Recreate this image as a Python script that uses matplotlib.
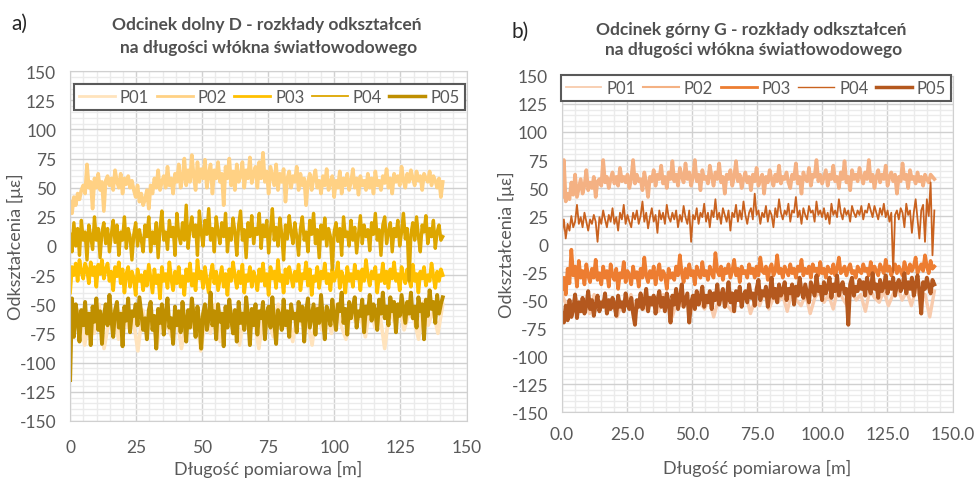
import numpy as np
import matplotlib.pyplot as plt
from matplotlib.ticker import MultipleLocator, FormatStrFormatter

plt.rcParams['font.family'] = ['Lato', 'DejaVu Sans']
plt.rcParams['axes.unicode_minus'] = False

# ---- panel a) odcinek dolny D ----
a_p01 = [-45, -70, -55, -85, -60, -75, -50, -88, -65, -58, -80, -55, -70, -62, -90, -55, -72, -60, -85, -52,
         -68, -78, -58, -88, -65, -70, -55, -90, -62, -75, -50, -82, -60, -68, -55, -85, -58, -72, -62, -88,
         -55, -65, -78, -50, -70, -60, -82, -55, -68, -62, -85, -52, -72, -58, -75, -50, -68, -80, -55, -65,
         -60, -78, -52, -70, -58, -88, -55, -65, -50, -72, -58, -62, -80, -48, -68, -55, -75, -50]
a_p02 = [38, 28, 42, 35, 45, 40, 48, 52, 45, 70, 50, 55, 32, 58, 50, 62, 48, 55, 30, 56,
         60, 52, 58, 48, 65, 55, 50, 62, 45, 58, 53, 60, 50, 56, 48, 42, 52, 38, 45, 35,
         40, 48, 32, 52, 45, 58, 50, 65, 48, 55, 60, 50, 68, 52, 58, 45, 62, 55, 70, 50,
         58, 75, 52, 65, 55, 78, 60, 48, 72, 55, 66, 58, 74, 50, 62, 70, 45, 65, 58, 72,
         55, 62, 35, 68, 58, 75, 52, 64, 48, 70, 55, 60, 72, 50, 65, 58, 76, 54, 62, 68,
         50, 72, 58, 80, 55, 64, 45, 68, 60, 52, 70, 48, 62, 55, 66, 38, 58, 64, 50, 60,
         55, 68, 48, 62, 52, 58, 35, 55, 62, 48, 58, 65, 50, 56, 45, 60, 52, 66, 48, 55,
         60, 42, 56, 50, 64, 45, 58, 52, 62, 48, 55, 66, 50, 58, 44, 60, 52, 56, 48, 62,
         50, 58, 45, 64, 52, 56, 48, 60, 54, 66, 50, 58, 45, 62, 55, 60, 52, 68, 56, 50,
         62, 55, 65, 58, 52, 64, 56, 60, 48, 62, 58, 55, 64, 52, 60, 56, 50, 58, 42, 55]
a_p03 = [-40, -18, -25, -15, -30, -12, -22, -28, -15, -20, -32, -14, -25, -18, -35, -16, -24, -12, -28, -20,
         -15, -30, -22, -38, -18, -26, -14, -32, -20, -40, -24, -18, -35, -22, -28, -42, -20, -30, -25, -38,
         -22, -34, -16, -28, -40, -20, -32, -25, -45, -18, -30, -24, -36, -14, -28, -38, -22, -32, -18, -35,
         -26, -42, -20, -30, -15, -34, -24, -38, -12, -28, -22, -36, -18, -30, -40, -25, -16, -32, -22, -38,
         -28, -18, -35, -24, -42, -20, -30, -14, -26, -36, -22, -32, -16, -40, -25, -30, -18, -35, -22, -28,
         -38, -20, -30, -15, -34, -24, -42, -18, -28, -22, -36, -12, -30, -25, -40, -20, -32, -18, -26, -35,
         -22, -30, -16, -38, -24, -28, -14, -34, -20, -42, -26, -30, -18, -36, -22, -28, -15, -32, -24, -38,
         -20, -30, -25, -14, -36, -22, -28, -40, -18, -30, -24, -35, -16, -28, -22, -38, -20, -30, -12, -26,
         -34, -22, -28, -18, -40, -25, -30, -15, -32, -22, -36, -20, -28, -14, -30, -24, -38, -18, -26, -32,
         -20, -28, -35, -16, -30, -24, -40, -22, -28, -18, -34, -25, -30, -15, -26, -36, -22, -30, -20, -25]
a_p04 = [10, -5, 20, 0, 15, -8, 22, 5, 12, -12, 18, 8, -3, 25, 5, 15, -10, 12, 20, 2,
         15, -5, 10, 22, 3, 18, -8, 12, 5, 25, -2, 15, 8, -12, 10, 20, 0, 14, 5, -5,
         18, 8, 25, -5, 12, 2, 20, -10, 15, 30, 5, 12, -3, 22, 8, 16, -8, 28, 10, 2,
         20, 5, 35, -2, 15, 25, 8, 18, -8, 30, 12, 0, 22, 10, 32, 5, 15, -5, 25, 12,
         2, 20, 8, 28, -5, 15, 5, 24, 12, -8, 18, 30, 5, 14, -10, 20, 8, 26, 2, 15,
         10, 28, -2, 18, 8, 22, -6, 14, 32, 5, 16, 0, 24, 10, -12, 18, 6, 26, 12, 2,
         20, 8, -8, 15, 25, 5, 12, -5, 22, 10, 28, 2, 14, -10, 18, 6, 24, 0, 15, 8,
         -20, 12, 20, 4, 15, -8, 25, 8, 12, 0, 22, 5, 16, -6, 10, 26, 2, 18, 8, 14,
         -4, 20, 10, 28, 5, 14, -8, 18, 25, 2, 12, 20, -5, 15, 8, 22, 0, 12, 28, 6,
         15, -30, 10, 20, 5, 25, 8, -5, 18, 12, 26, 2, 15, 8, 22, -2, 12, 18, 5, 8]
a_p05 = [-115, -45, -78, -50, -62, -82, -55, -68, -48, -75, -58, -85, -52, -65, -45, -72, -56, -84, -60, -50,
         -68, -42, -62, -78, -55, -48, -70, -58, -86, -52, -64, -45, -74, -56, -60, -50, -68, -44, -58, -72,
         -62, -80, -55, -48, -72, -60, -88, -54, -66, -50, -76, -58, -45, -70, -62, -84, -52, -68, -56, -74,
         -48, -64, -82, -55, -70, -45, -60, -78, -52, -66, -88, -58, -50, -72, -62, -40, -68, -56, -80, -50,
         -65, -58, -86, -52, -70, -46, -62, -75, -55, -82, -48, -66, -58, -72, -44, -60, -85, -54, -68, -50,
         -76, -56, -62, -48, -80, -58, -52, -70, -44, -65, -84, -55, -60, -72, -46, -68, -56, -78, -50, -62,
         -58, -74, -48, -64, -52, -82, -56, -45, -70, -60, -50, -76, -54, -66, -42, -62, -80, -52, -58, -68,
         -46, -60, -72, -50, -56, -40, -66, -54, -76, -48, -62, -52, -44, -70, -56, -60, -46, -74, -52, -58,
         -42, -64, -50, -56, -72, -46, -58, -40, -62, -52, -68, -44, -56, -48, -74, -50, -60, -42, -54, -66,
         -48, -58, -40, -62, -52, -70, -44, -56, -50, -80, -46, -60, -38, -54, -48, -66, -42, -58, -50, -44]

# ---- panel b) odcinek gorny G ----
b_p01 = [-45, -55, -65, -48, -58, -52, -62, -45, -55, -50, -60, -48, -65, -52, -55, -45, -62, -50, -58, -48,
         -55, -60, -45, -52, -65, -50, -55, -48, -62, -45, -52, -58, -48, -65, -50, -45, -55, -60, -48, -52,
         -45, -62, -50, -55, -42, -58, -48, -52, -45, -60, -42, -50, -55, -45, -62, -48, -42, -52, -45, -58,
         -40, -48, -55, -42, -50, -45, -60, -40, -48, -52, -42, -55, -45, -38, -50, -42, -55, -40, -48, -45, -65, -42]
b_p02 = [42, 75, 38, 45, 40, 55, 44, 62, 42, 50, 58, 45, 52, 66, 48, 55, 50, 60, 42, 56,
         58, 52, 75, 55, 60, 50, 58, 64, 54, 60, 52, 68, 56, 60, 55, 62, 50, 58, 75, 54,
         62, 56, 58, 48, 64, 55, 42, 60, 56, 66, 52, 62, 58, 70, 54, 60, 50, 64, 58, 74,
         56, 62, 52, 68, 60, 55, 72, 58, 64, 52, 60, 75, 56, 62, 48, 66, 58, 60, 54, 70,
         60, 52, 64, 58, 72, 55, 60, 45, 62, 58, 66, 52, 60, 74, 56, 62, 50, 58, 64, 55,
         60, 48, 62, 56, 68, 52, 58, 62, 45, 60, 55, 66, 58, 52, 62, 56, 70, 54, 60, 58,
         64, 55, 50, 62, 58, 72, 54, 60, 45, 64, 58, 56, 68, 52, 62, 60, 75, 56, 62, 54,
         60, 66, 52, 62, 58, 70, 56, 60, 50, 64, 58, 74, 55, 60, 48, 66, 58, 62, 56, 68,
         60, 54, 64, 58, 75, 56, 62, 50, 60, 66, 55, 62, 58, 70, 52, 60, 64, 56, 62, 45,
         60, 56, 72, 58, 62, 50, 66, 58, 60, 54, 64, 56, 60, 52, 62, 58, 55, 62, 60, 58]
b_p03 = [-40, -30, -45, -22, -35, -5, -28, -20, -38, -15, -30, -24, -36, -18, -28, -34, -22, -30, -14, -32,
         -26, -36, -20, -30, -24, -38, -18, -28, -32, -22, -40, -26, -30, -16, -34, -24, -28, -36, -20, -30,
         -25, -38, -22, -30, -12, -28, -34, -24, -30, -20, -36, -26, -18, -32, -24, -28, -40, -22, -30, -26,
         -32, -20, -28, -10, -26, -34, -22, -30, -18, -28, -24, -36, -20, -26, -30, -16, -28, -24, -32, -20,
         -26, -30, -8, -24, -28, -20, -32, -22, -26, -18, -30, -24, -14, -28, -22, -34, -20, -26, -24, -30,
         -18, -26, -22, -30, -20, -28, -12, -24, -26, -20, -32, -22, -18, -28, -24, -10, -26, -22, -30, -20,
         -24, -28, -18, -26, -22, -30, -20, -24, -14, -28, -22, -26, -20, -30, -18, -24, -22, -28, -16, -26,
         -22, -30, -20, -24, -26, -18, -28, -22, -12, -26, -24, -20, -28, -22, -18, -26, -24, -30, -20, -24,
         -26, -18, -24, -22, -28, -16, -26, -20, -24, -28, -18, -22, -26, -14, -24, -20, -28, -22, -18, -26,
         -20, -24, -28, -16, -22, -26, -18, -24, -20, -12, -26, -22, -18, -24, -10, -20, -26, -15, -22, -20]
b_p04 = [10, 22, 5, 18, 12, 25, 15, 20, 35, 18, 24, 15, 28, 20, 12, 22, 18, 26, 20, 2,
         24, 18, 30, 22, 15, 26, 20, 32, 18, 24, 12, 28, 22, 35, 18, 26, 20, 15, 28, 22,
         30, 18, 25, 38, 20, 28, 14, 24, 32, 20, 26, 10, 30, 22, 28, 18, 35, 24, 20, 28,
         22, 30, 15, 26, 20, 34, 24, 18, 30, 2, 26, 22, 32, 18, 28, 24, 36, 20, 28, 15,
         30, 24, 40, 22, 28, 18, 32, 26, 20, 30, 12, 28, 24, 35, 20, 30, 22, 38, 26, 18,
         28, 32, 22, 45, 26, 30, 18, 28, 24, 34, 20, 30, 26, 15, 32, 24, 40, 28, 22, 30,
         26, 36, 20, 30, 28, 42, 24, 30, 18, 32, 26, 22, 34, 28, 30, 20, 38, 26, 30, 24,
         32, 22, 28, 18, 36, 26, 30, 24, 40, 28, 22, 32, 26, 30, 20, 34, 28, 24, 30, 26,
         34, 22, 30, 28, 36, 30, 24, 34, 28, 22, 32, 26, 36, 24, 30, 20, 28, -25, 26, 30,
         22, 32, 28, 15, 36, 26, 30, 10, 28, 40, 22, 5, 30, 35, 2, 40, 25, 55, -10, 30]
b_p05 = [-62, -70, -55, -68, -50, -65, -58, -45, -66, -52, -60, -48, -62, -55, -42, -58, -50, -64, -54, -46,
         -60, -52, -56, -44, -62, -50, -58, -48, -54, -64, -46, -56, -52, -60, -44, -54, -58, -48, -62, -72,
         -50, -56, -44, -58, -52, -40, -60, -48, -54, -46, -62, -50, -42, -56, -48, -60, -44, -52, -70, -46,
         -54, -40, -58, -48, -36, -56, -50, -44, -70, -52, -46, -58, -42, -54, -48, -38, -56, -46, -52, -42,
         -58, -44, -50, -36, -54, -46, -40, -56, -48, -34, -52, -44, -60, -42, -50, -38, -56, -46, -42, -52,
         -36, -48, -44, -55, -40, -32, -50, -42, -46, -38, -56, -44, -30, -48, -40, -52, -36, -46, -42, -34,
         -50, -40, -44, -36, -54, -38, -46, -30, -42, -48, -36, -44, -52, -34, -40, -46, -28, -42, -38, -50,
         -34, -44, -38, -30, -48, -36, -42, -28, -46, -38, -34, -44, -40, -72, -36, -30, -46, -38, -42, -32,
         -40, -34, -46, -30, -38, -44, -26, -40, -36, -48, -32, -42, -38, -28, -44, -34, -40, -30, -46, -36,
         -32, -42, -38, -26, -44, -34, -40, -30, -46, -36, -28, -42, -62, -34, -40, -30, -38, -44, -32, -36]

labels = ['P01', 'P02', 'P03', 'P04', 'P05']
a_series = [a_p01, a_p02, a_p03, a_p04, a_p05]
b_series = [b_p01, b_p02, b_p03, b_p04, b_p05]
a_colors = ['#FFE3BC', '#FFD184', '#FFC000', '#DDA600', '#BF8F00']
b_colors = ['#F8CBAD', '#F4B183', '#ED7D31', '#C9621F', '#B4581E']
a_widths = [2.6, 2.6, 2.6, 2.4, 2.8]
b_widths = [2.4, 2.6, 2.6, 1.3, 2.8]
a_leg_widths = [2.0, 2.0, 2.0, 1.3, 2.5]
b_leg_widths = [1.3, 1.5, 2.0, 1.0, 2.5]
a_len = 141
b_len = 143

TXT = '#595959'

fig = plt.figure(figsize=(9.74, 4.81), dpi=100)
ax1 = fig.add_axes([0.072, 0.123, 0.407, 0.727])
ax2 = fig.add_axes([0.577, 0.141, 0.401, 0.699])


def style(ax, fmt, xpad, lpad, ylx):
    ax.set_xlim(0, 150)
    ax.set_ylim(-150, 150)
    ax.xaxis.set_major_locator(MultipleLocator(25))
    ax.yaxis.set_major_locator(MultipleLocator(25))
    ax.xaxis.set_minor_locator(MultipleLocator(5))
    ax.yaxis.set_minor_locator(MultipleLocator(5))
    ax.xaxis.set_major_formatter(FormatStrFormatter(fmt))
    ax.grid(which='major', color='#D0D0D0', lw=1.0, zorder=0)
    ax.grid(which='minor', color='#EBEBEB', lw=1.0, zorder=0)
    ax.set_axisbelow(True)
    ax.tick_params(which='both', length=0, labelsize=12.5, colors=TXT)
    ax.tick_params(axis='x', pad=xpad)
    ax.tick_params(axis='y', pad=10)
    for s in ax.spines.values():
        s.set_color('#D0D0D0')
    ax.set_xlabel('Długość pomiarowa [m]', fontsize=13, color=TXT, labelpad=lpad)
    ax.set_ylabel('Odkształcenia [με]', fontsize=13, color=TXT, va='center')
    ax.yaxis.set_label_coords(ylx, 0.5)


def draw(ax, series, colors, widths, length):
    for vals, c, w, lab in zip(series, colors, widths, labels):
        x = np.linspace(0, length, len(vals))
        ax.plot(x, vals, color=c, lw=w, label=lab)


def legend(ax, anchor, widths):
    leg = ax.legend(loc='upper center', bbox_to_anchor=anchor, ncol=5, fontsize=12,
                    handlelength=2.15, handletextpad=0.3, columnspacing=0.45, borderaxespad=0,
                    fancybox=False, framealpha=1, borderpad=0.3)
    leg.get_frame().set_edgecolor('#595959')
    leg.get_frame().set_linewidth(1.5)
    for t in leg.get_texts():
        t.set_color(TXT)
    for ln, w in zip(leg.get_lines(), widths):
        ln.set_linewidth(w)


style(ax1, '%d', 13, 4, -0.139)
draw(ax1, a_series, a_colors, a_widths, a_len)
legend(ax1, (0.5025, 0.963), a_leg_widths)

style(ax2, '%.1f', 10, 12, -0.141)
draw(ax2, b_series, b_colors, b_widths, b_len)
legend(ax2, (0.496, 1.003), b_leg_widths)

TTL = dict(ha='center', va='center', fontsize=12.5, fontweight='bold', color='#505050')
fig.text(0.274, 0.948, 'Odcinek dolny D - rozkłady odkształceń', **TTL)
fig.text(0.276, 0.900, 'na długości włókna światłowodowego', **TTL)
fig.text(0.771, 0.938, 'Odcinek górny G - rozkłady odkształceń', **TTL)
fig.text(0.774, 0.896, 'na długości włókna światłowodowego', **TTL)
fig.text(0.012, 0.95, 'a)', ha='left', va='center', fontsize=15, color='#262626')
fig.text(0.525, 0.933, 'b)', ha='left', va='center', fontsize=15, color='#262626')

fig.savefig('out.png', dpi=100)
